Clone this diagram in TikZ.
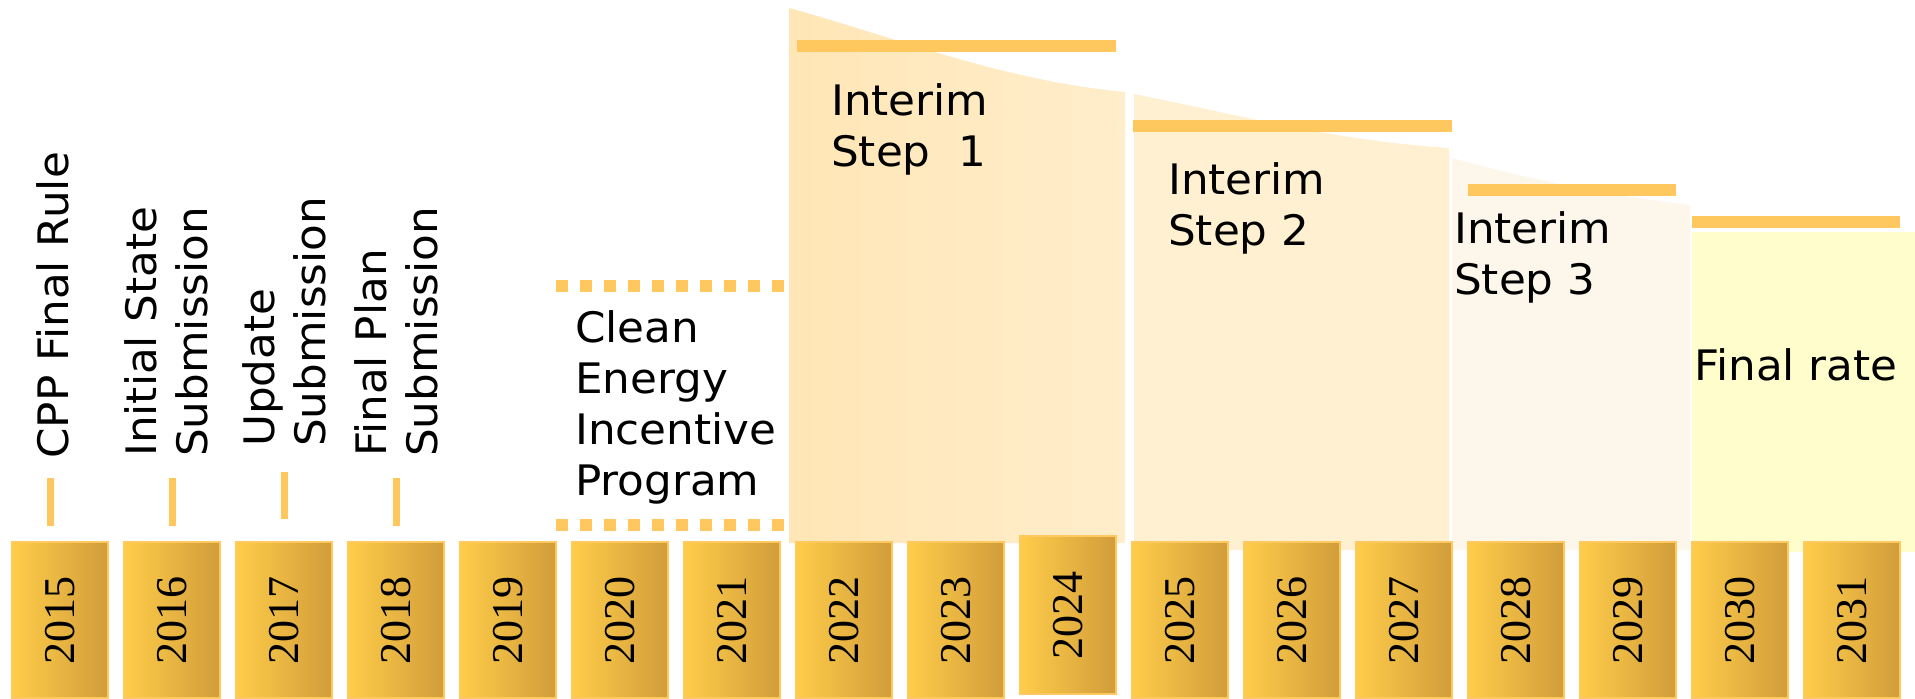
\documentclass[tikz,border=0pt]{standalone}
\usepackage{fontspec}
\setmainfont[FakeStretch=1.04]{DejaVu Sans}
\newfontfamily\yearfont{Liberation Serif}
\usepackage{graphicx}

\definecolor{barorange}{HTML}{FFC85F}
\definecolor{yearL}{HTML}{FFCD4A}
\definecolor{yearR}{HTML}{D19C3A}
\definecolor{yearEdge}{HTML}{FFC960}
\definecolor{stepA}{HTML}{FFE6B6}
\definecolor{stepAr}{HTML}{FFEDCB}
\definecolor{stepB}{HTML}{FFF0D2}
\definecolor{stepC}{HTML}{FDF6EA}
\definecolor{finalfill}{HTML}{FFFDCC}

\tikzset{
    yearbox/.style={rectangle, inner sep=0pt, minimum width=96pt, minimum height=156pt,
        left color=yearL, right color=yearR, draw=yearEdge, line width=2pt,
        font=\yearfont\fontsize{44}{44}\selectfont},
    milestone/.style={inner sep=0pt, rotate=90, anchor=north west, align=left,
        font=\fontsize{42}{51}\selectfont},
    phase/.style={inner sep=0pt, anchor=north west, align=left,
        font=\fontsize{42}{51}\selectfont},
    tick/.style={barorange, line width=7pt},
    rateline/.style={barorange, line width=12pt},
    dotline/.style={barorange, line width=12pt, dash pattern=on 12pt off 12pt}
}

\begin{document}
\begin{tikzpicture}[x=1pt,y=-1pt]
        \useasboundingbox (0,0) rectangle (1915,699);

        \path[left color=stepA, right color=stepAr] (789,8) .. controls (898,38) and (1000,80) .. (1125,92) -- (1125,543) -- (789,543) -- cycle;
        \fill[stepB] (1134,94) .. controls (1240,115) and (1330,140) .. (1449,148) -- (1449,550) -- (1134,550) -- cycle;
        \fill[stepC] (1452,158) .. controls (1550,185) and (1630,198) .. (1690,205) -- (1690,550) -- (1452,550) -- cycle;
        \fill[finalfill] (1692,232) rectangle (1915,552);

        \draw[rateline] (797,46) -- (1116,46);
        \draw[rateline] (1133,126) -- (1452,126);
        \draw[rateline] (1468,190) -- (1676,190);
        \draw[rateline] (1692,222) -- (1900,222);

        \draw[dotline] (556,286) -- (784,286);
        \draw[dotline] (556,525) -- (784,525);

        \node[milestone] (m1) at (36,459) {CPP Final Rule};
        \node[milestone] (m2) at (124,457) {Initial State\\Submission};
        \node[milestone] (m3) at (242,447) {Update\\Submission};
        \node[milestone] (m4) at (354,457) {Final Plan\\Submission};

        \node[phase] (p0) at (575,310) {Clean\\Energy\\Incentive\\Program};
        \node[phase] (p1) at (831,83) {Interim\\Step\ \ 1};
        \node[phase] (p2) at (1168,162) {Interim\\Step 2};
        \node[phase] (p3) at (1454,211) {Interim\\Step 3};
        \node[phase] (p4) at (1694,348) {Final rate};

        \draw[tick] (50,478) -- (50,526);
        \draw[tick] (172,478) -- (172,526);
        \draw[tick] (284,472) -- (284,519);
        \draw[tick] (396,478) -- (396,526);

        \node[yearbox] (y2015) at (60,620) {\rotatebox{90}{2015}};
        \node[yearbox] (y2016) at (172,620) {\rotatebox{90}{2016}};
        \node[yearbox] (y2017) at (284,620) {\rotatebox{90}{2017}};
        \node[yearbox] (y2018) at (396,620) {\rotatebox{90}{2018}};
        \node[yearbox] (y2019) at (508,620) {\rotatebox{90}{2019}};
        \node[yearbox] (y2020) at (620,620) {\rotatebox{90}{2020}};
        \node[yearbox] (y2021) at (732,620) {\rotatebox{90}{2021}};
        \node[yearbox] (y2022) at (844,620) {\rotatebox{90}{2022}};
        \node[yearbox] (y2023) at (956,620) {\rotatebox{90}{2023}};
        \node[yearbox, minimum height=158pt] (y2024) at (1068,615) {\rotatebox{90}{2024}};
        \node[yearbox] (y2025) at (1180,620) {\rotatebox{90}{2025}};
        \node[yearbox] (y2026) at (1292,620) {\rotatebox{90}{2026}};
        \node[yearbox] (y2027) at (1404,620) {\rotatebox{90}{2027}};
        \node[yearbox] (y2028) at (1516,620) {\rotatebox{90}{2028}};
        \node[yearbox] (y2029) at (1628,620) {\rotatebox{90}{2029}};
        \node[yearbox] (y2030) at (1740,620) {\rotatebox{90}{2030}};
        \node[yearbox] (y2031) at (1852,620) {\rotatebox{90}{2031}};
\end{tikzpicture}
\end{document}
